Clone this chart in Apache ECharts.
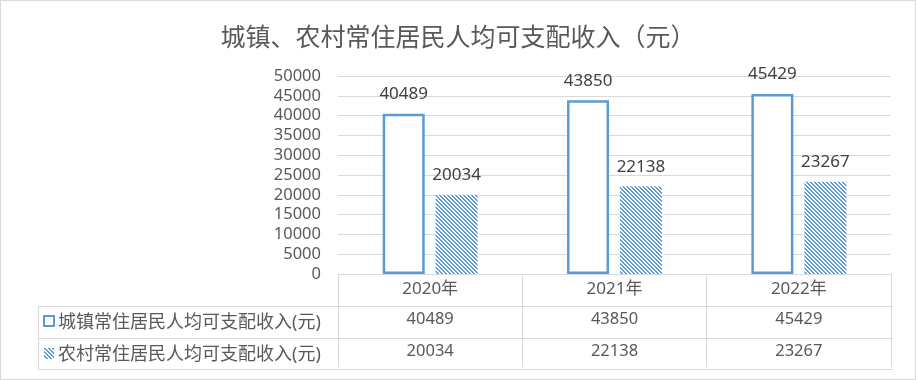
<!DOCTYPE html>
<html><head><meta charset="utf-8">
<script src="https://cdn.jsdelivr.net/npm/echarts@6/dist/echarts.min.js"></script>
<style>
html,body{margin:0;padding:0;background:#fff;}
#c{width:916px;height:380px;box-sizing:border-box;border:1px solid #d9d9d9;}
</style></head>
<body><div id="c"></div>
<script>
const titleText = '城镇、农村常住居民人均可支配收入（元）';
const categories = ['2020年', '2021年', '2022年'];
const seriesNames = ['城镇常住居民人均可支配收入(元)', '农村常住居民人均可支配收入(元)'];
const urbanValues = [40489, 43850, 45429];
const ruralValues = [20034, 22138, 23267];
const yTicks = { min: 0, max: 50000, interval: 5000 };

const FONT = "'Noto Sans', 'Noto Sans CJK SC', sans-serif";
const BLUE = '#5B9BD5';
const GRIDC = '#D9D9D9';

// hatch pattern
function hatch() {
  const n = 4;
  const cv = document.createElement('canvas');
  cv.width = n; cv.height = n;
  const ctx = cv.getContext('2d');
  const img = ctx.createImageData(n, n);
  for (let y = 0; y < n; y++) for (let x = 0; x < n; x++) {
    const on = ((x - y) % n + n) % n < 2;
    const i = (y * n + x) * 4;
    if (on) { img.data[i] = 0x5B; img.data[i+1] = 0x9B; img.data[i+2] = 0xD5; img.data[i+3] = 255; }
    else { img.data[i] = 255; img.data[i+1] = 255; img.data[i+2] = 255; img.data[i+3] = 255; }
  }
  ctx.putImageData(img, 0, 0);
  return cv;
}
const pat = { image: hatch(), repeat: 'repeat' };

const L = { gridLeft: 337, gridRight: 892, axisY: 275, row1: 305, row2: 337, row3: 368, tableLeft: 37 };

const chart = echarts.init(document.getElementById('c'));
chart.setOption({
  animation: false,
  textStyle: { fontFamily: FONT },
  title: {
    text: titleText, left: 'center', top: 20,
    textStyle: { fontSize: 25, fontWeight: 'normal', color: '#595959', fontFamily: FONT }
  },
  grid: { left: L.gridLeft, right: 916 - L.gridRight, top: 75, bottom: 380 - L.axisY, containLabel: false },
  xAxis: {
    type: 'category', data: categories,
    axisLine: { lineStyle: { color: GRIDC, width: 1 } },
    axisTick: { show: true, length: L.row3 - L.axisY, lineStyle: { color: GRIDC } },
    axisLabel: {
      margin: 0, interval: 0,
      formatter: function (v, idx) {
        return '{y|' + v + '}\n{v|' + urbanValues[idx] + '}\n{v|' + ruralValues[idx] + '}';
      },
      rich: {
        y: { fontSize: 17, color: '#595959', lineHeight: 30, fontFamily: FONT },
        v: { fontSize: 16.5, color: '#595959', lineHeight: 31.5, fontFamily: FONT }
      }
    }
  },
  yAxis: {
    type: 'value', min: yTicks.min, max: yTicks.max, interval: yTicks.interval,
    axisLine: { show: false }, axisTick: { show: false },
    splitLine: { lineStyle: { color: GRIDC, width: 1 } },
    axisLabel: { fontSize: 16.5, color: '#595959', margin: 17, fontFamily: FONT, formatter: function (v) { return String(v); } }
  },
  series: [
    {
      name: seriesNames[0], type: 'bar', data: urbanValues, barWidth: 42, barGap: '26%',
      itemStyle: { color: '#fff', borderColor: BLUE, borderWidth: 2.5 },
      label: { show: true, position: 'top', distance: 11, fontSize: 17, color: '#404040', fontFamily: FONT }
    },
    {
      name: seriesNames[1], type: 'bar', data: ruralValues, barWidth: 42,
      itemStyle: { color: pat },
      label: { show: true, position: 'top', distance: 11, fontSize: 17, color: '#404040', fontFamily: FONT }
    }
  ],
  graphic: [
    { type: 'line', shape: { x1: L.tableLeft, y1: L.row1 + 0.5, x2: L.gridRight, y2: L.row1 + 0.5 }, style: { stroke: GRIDC, lineWidth: 1 } },
    { type: 'line', shape: { x1: L.tableLeft, y1: L.row2 + 0.5, x2: L.gridRight, y2: L.row2 + 0.5 }, style: { stroke: GRIDC, lineWidth: 1 } },
    { type: 'line', shape: { x1: L.tableLeft, y1: L.row3 + 0.5, x2: L.gridRight, y2: L.row3 + 0.5 }, style: { stroke: GRIDC, lineWidth: 1 } },
    { type: 'line', shape: { x1: L.tableLeft + 0.5, y1: L.row1, x2: L.tableLeft + 0.5, y2: L.row3 }, style: { stroke: GRIDC, lineWidth: 1 } },
    { type: 'rect', shape: { x: 43, y: 315, width: 10, height: 10 }, style: { fill: '#fff', stroke: BLUE, lineWidth: 2 } },
    { type: 'rect', shape: { x: 43, y: 347, width: 10, height: 11 }, style: { fill: pat } },
    { type: 'text', x: 57, y: (L.row1 + L.row2) / 2 + 1, style: { text: seriesNames[0], font: '18px ' + FONT, fill: '#595959', textVerticalAlign: 'middle', textAlign: 'left' } },
    { type: 'text', x: 57, y: (L.row2 + L.row3) / 2 + 1, style: { text: seriesNames[1], font: '18px ' + FONT, fill: '#595959', textVerticalAlign: 'middle', textAlign: 'left' } }
  ]
});
</script>
</body></html>
